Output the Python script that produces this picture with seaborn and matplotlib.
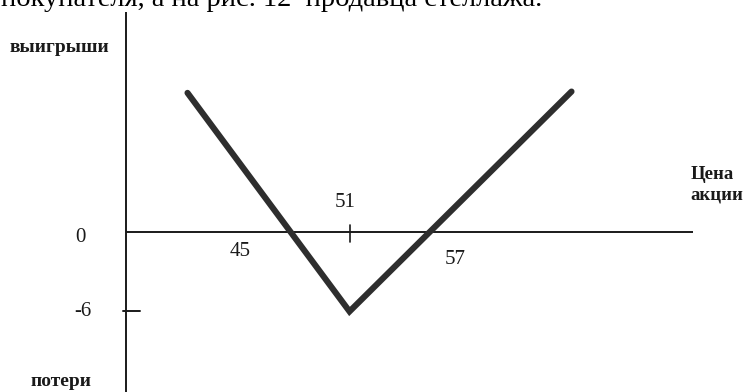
import matplotlib
matplotlib.use("Agg")
import matplotlib.pyplot as plt
import seaborn as sns
import pandas as pd

# Straddle payoff: strike 51, total premium 6, break-even points 45 and 57
strike = 51
max_loss = -6
breakevens = [45, 57]
price = [37.5, 51, 69.5]
payoff = [10.5, -6, 10.6]

caption = "покупателя, а на рис. 12  продавца стеллажа."
y_label_top = "выигрыши"
y_label_bottom = "потери"
x_label = "Цена\nакции"

sns.set_style("white")
plt.rcParams["font.family"] = ["Liberation Serif", "DejaVu Serif"]

fig = plt.figure(figsize=(7.46, 3.92), dpi=100)
ax = fig.add_axes([0, 0, 1, 1])
ax.set_xlim(21.875, 84.04)
ax.set_ylim(-12.08, 17.51)
ax.axis("off")

ink = "#1a1a1a"

# axes of the diagram
ax.plot([32.375, 32.375], [-12.5, 16.57], color=ink, lw=1.4, solid_capstyle="butt")
ax.plot([32.375, 79.625], [0, 0], color=ink, lw=1.4, solid_capstyle="butt")
ax.plot([32.125, 33.54], [max_loss, max_loss], color=ink, lw=1.4)
ax.plot([strike, strike], [0.53, -0.73], color=ink, lw=1.2)

# payoff line
df = pd.DataFrame({"price": price, "payoff": payoff})
sns.lineplot(data=df, x="price", y="payoff", sort=False, ax=ax,
             color="#2e2e2e", lw=4.4, solid_joinstyle="miter", solid_capstyle="round")
ax.set_xlabel("")
ax.set_ylabel("")

num_fs = 15
ax.text(28.6, -0.45, "0", fontsize=num_fs, ha="center", va="center", color=ink)
ax.text(28.8, max_loss, "-6", fontsize=num_fs, ha="center", va="center", color=ink)
ax.text(41.9, -1.5, str(breakevens[0]), fontsize=num_fs, ha="center", va="center", color=ink)
ax.text(50.6, 2.26, str(strike), fontsize=num_fs, ha="center", va="center", color=ink)
ax.text(59.8, -2.1, str(breakevens[1]), fontsize=num_fs, ha="center", va="center", color=ink)

ax.text(79.4, 3.55, x_label, fontsize=13.5, ha="left", va="center", color=ink,
        linespacing=1.3, fontweight="bold")
ax.text(22.7, 13.9, y_label_top, fontsize=14, ha="left", va="center", color=ink,
        fontweight="bold")
ax.text(24.4, -11.3, y_label_bottom, fontsize=14, ha="left", va="center", color=ink,
        fontweight="bold")

ax.text(21.96, 17.05, caption, fontsize=20.5, ha="left", va="baseline", color="black")

fig.savefig("out.png", dpi=100)
